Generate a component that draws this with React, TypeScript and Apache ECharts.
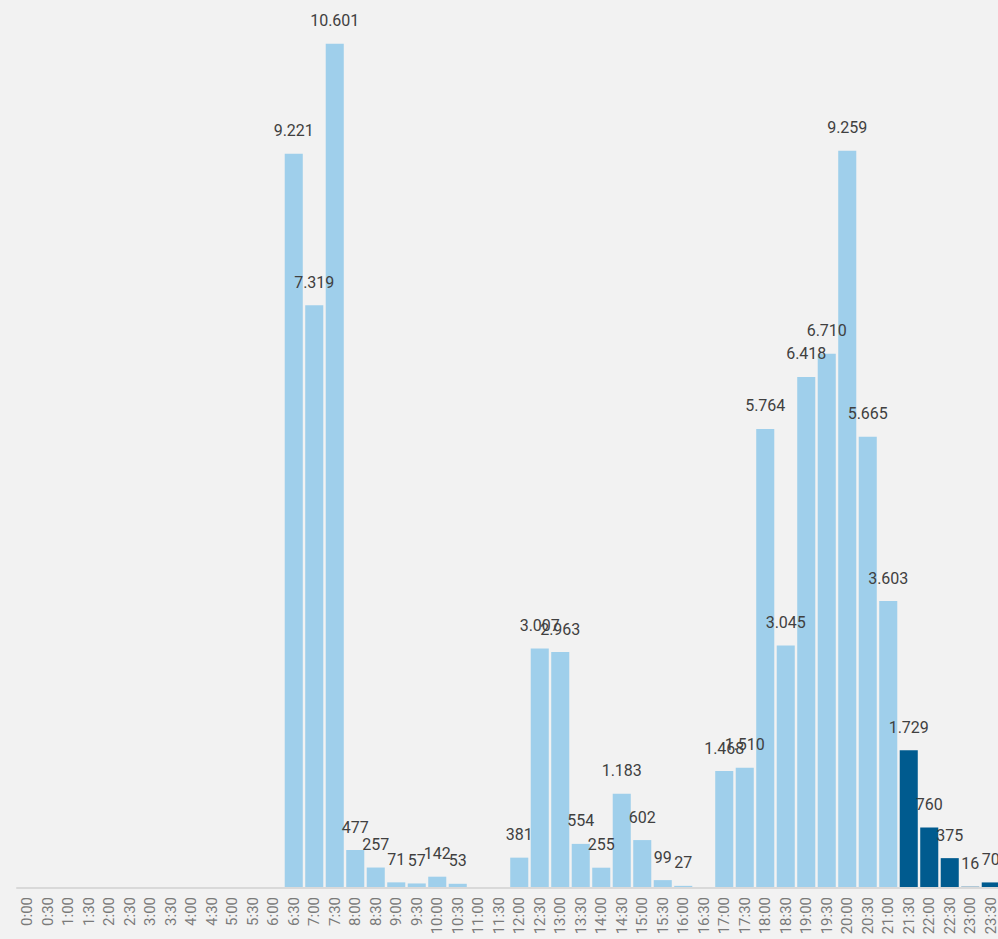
import React, { useEffect, useRef } from "react";
import * as echarts from "echarts";

const categories = [
  "0:00", "0:30", "1:00", "1:30", "2:00", "2:30", "3:00", "3:30", "4:00", "4:30",
  "5:00", "5:30", "6:00", "6:30", "7:00", "7:30", "8:00", "8:30", "9:00", "9:30",
  "10:00", "10:30", "11:00", "11:30", "12:00", "12:30", "13:00", "13:30", "14:00", "14:30",
  "15:00", "15:30", "16:00", "16:30", "17:00", "17:30", "18:00", "18:30", "19:00", "19:30",
  "20:00", "20:30", "21:00", "21:30", "22:00", "22:30", "23:00", "23:30",
];

const values = [
  0, 0, 0, 0, 0, 0, 0, 0, 0, 0,
  0, 0, 0, 9221, 7319, 10601, 477, 257, 71, 57,
  142, 53, 0, 0, 381, 3007, 2963, 554, 255, 1183,
  602, 99, 27, 0, 1468, 1510, 5764, 3045, 6418, 6710,
  9259, 5665, 3603, 1729, 760, 375, 16, 70,
];

// categories drawn in the dark (highlighted) colour
const highlighted = ["21:30", "22:00", "22:30", "23:00", "23:30"];

const LIGHT = "#9fcfeb";
const DARK = "#005b8f";

function fmt(v: number): string {
  return String(v).replace(/\B(?=(\d{3})+(?!\d))/g, ".");
}

export default function App() {
  const ref = useRef<HTMLDivElement>(null);
  useEffect(() => {
    document.body.style.margin = "0";
    document.body.style.overflow = "hidden";
    document.body.style.background = "#f2f2f2";
    const chart = echarts.init(ref.current!, null, { renderer: "svg" });
    chart.setOption({
      animation: false,
      backgroundColor: "#f2f2f2",
      grid: { left: 17, right: 1, top: 12, bottom: 51 },
      xAxis: {
        type: "category",
        data: categories,
        z: 5,
        axisLine: { show: true, lineStyle: { color: "#d9d9d9", width: 2 } },
        axisTick: { show: false },
        axisLabel: {
          rotate: 90,
          interval: 0,
          margin: 9,
          color: "#7a7a7a",
          fontSize: 15,
          fontFamily: "Roboto",
        },
      },
      yAxis: {
        type: "value",
        min: 0,
        max: 11000,
        show: false,
        splitLine: { show: false },
      },
      series: [
        {
          type: "bar",
          barCategoryGap: "12%",
          data: values.map((v, i) => ({
            value: v,
            itemStyle: { color: highlighted.includes(categories[i]) ? DARK : LIGHT },
          })),
          label: {
            show: true,
            position: "top",
            distance: 15,
            color: "#404040",
            fontSize: 16,
            fontFamily: "Roboto",
            formatter: (p: any) => (p.value ? fmt(p.value) : ""),
          },
        },
      ],
    });
    return () => chart.dispose();
  }, []);
  return (
    <div style={{ width: 998, height: 939, overflow: "hidden" }}>
      <div ref={ref} style={{ width: 1002, height: 939 }} />
    </div>
  );
}
